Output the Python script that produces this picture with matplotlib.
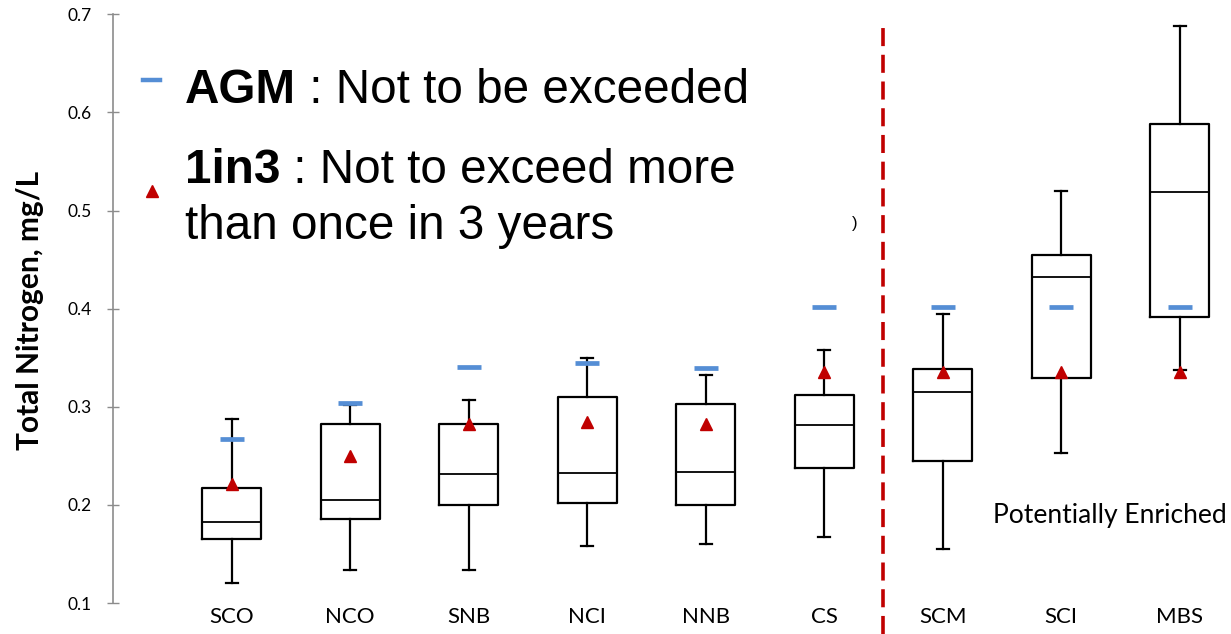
import matplotlib
matplotlib.use('Agg')
import matplotlib.pyplot as plt

# Total nitrogen by site (mg/L)
sites = ['SCO', 'NCO', 'SNB', 'NCI', 'NNB', 'CS', 'SCM', 'SCI', 'MBS']
whisker_low = [0.120, 0.134, 0.134, 0.158, 0.160, 0.167, 0.155, 0.253, 0.337]
q1 = [0.165, 0.186, 0.200, 0.2015, 0.200, 0.238, 0.245, 0.329, 0.391]
median = [0.1825, 0.205, 0.231, 0.2325, 0.234, 0.281, 0.315, 0.432, 0.5185]
q3 = [0.217, 0.282, 0.282, 0.310, 0.303, 0.3115, 0.338, 0.455, 0.588]
whisker_high = [0.2875, 0.302, 0.3065, 0.3495, 0.332, 0.358, 0.3945, 0.520, 0.688]
agm = [0.267, 0.3035, 0.341, 0.3447, 0.3393, 0.4015, 0.4017, 0.4017, 0.4017]
one_in_three = [0.221, 0.250, 0.282, 0.284, 0.282, 0.3355, 0.335, 0.335, 0.335]

W, H = 1231, 634
red = '#c00000'
blue = '#558ed5'
grey = '#8c8c8c'

def fx(px):
    return px / W

def fy(py):
    return 1 - py / H

fig = plt.figure(figsize=(W / 100, H / 100), dpi=100)
ax = fig.add_axes([fx(113.2), fy(603), 1 - fx(113.2), fy(14.3) - fy(603)])

pos = list(range(1, len(sites) + 1))
stats = []
for i in range(len(sites)):
    stats.append(dict(med=median[i], q1=q1[i], q3=q3[i],
                      whislo=whisker_low[i], whishi=whisker_high[i], label=sites[i]))

line = dict(color='black', linewidth=1.6)
ax.bxp(stats, positions=pos, widths=0.5, capwidths=0.1, showfliers=False,
       boxprops=line, whiskerprops=line, capprops=line,
       medianprops=dict(color='black', linewidth=1.3))

ax.plot(pos, agm, linestyle='none', marker='_', markersize=17.5,
        markeredgewidth=3.4, color=blue, zorder=5)
ax.plot(pos, one_in_three, linestyle='none', marker='^', markersize=9,
        color=red, markeredgecolor=red, zorder=6)

# divider between reference sites and potentially enriched ones
divider = 6.5
ax.plot([divider, divider], [0.068, 0.688], color=red, linewidth=2.6,
        dashes=(5, 2.4), clip_on=False, zorder=4)

ax.set_xlim(0, (W - 113.2) / 118.5)
ax.set_ylim(0.1, 0.7)
ax.set_yticks([0.1, 0.2, 0.3, 0.4, 0.5, 0.6, 0.7])
ax.set_yticklabels(['0.1', '0.2', '0.3', '0.4', '0.5', '0.6', '0.7'],
                   fontsize=12.5, family='Lato')
ax.set_xticks(pos)
ax.set_xticklabels(sites, fontsize=16, family='Lato')
ax.tick_params(axis='x', length=0, pad=3)
ax.tick_params(axis='y', direction='inout', length=8.6, width=1, color=grey, pad=11)
for s in ['top', 'right', 'bottom']:
    ax.spines[s].set_visible(False)
ax.spines['left'].set_color(grey)
ax.spines['left'].set_linewidth(1.2)

fig.text(fx(30), fy(310), 'Total Nitrogen, mg/L', rotation=90, ha='center',
         va='center', fontsize=21.5, fontweight='bold', family='Lato')

# legend-like annotation
leg = dict(fontsize=34.3, family='Liberation Sans', va='baseline')
t1 = fig.text(fx(185), fy(103.3), 'AGM', fontweight='bold', **leg)
ax.annotate(' : Not to be exceeded', xy=(1, 0), xycoords=t1, va='bottom',
            fontsize=34.3, family='Liberation Sans', annotation_clip=False)
t2 = fig.text(fx(185), fy(182.7), '1in3', fontweight='bold', **leg)
ax.annotate(' : Not to exceed more', xy=(1, 0), xycoords=t2, va='bottom',
            fontsize=34.3, family='Liberation Sans', annotation_clip=False)
fig.text(fx(185), fy(239.3), 'than once in 3 years', **leg)

fig.lines.append(plt.Line2D([fx(143), fx(160)], [fy(80), fy(80)], color=blue,
                            linewidth=3.2, transform=fig.transFigure))
fig.lines.append(plt.Line2D([fx(151.7)], [fy(190.7)], marker='^', markersize=8.5,
                            color=red, linestyle='none', transform=fig.transFigure))

fig.text(fx(993), fy(523), 'Potentially Enriched', fontsize=19.1, family='Lato')
fig.text(fx(852), fy(228), ')', fontsize=12, family='Liberation Sans')

fig.savefig('out.png', dpi=100)
